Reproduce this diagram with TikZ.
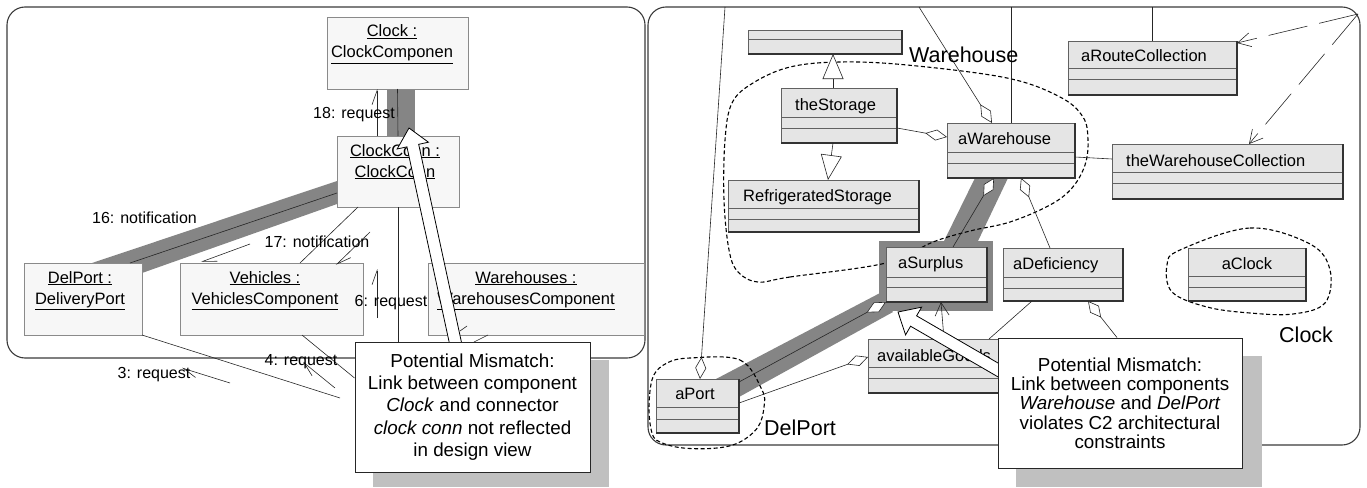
\documentclass[tikz,border=0pt]{standalone}
\usepackage{fontspec}
\setmainfont{Liberation Sans}
\usetikzlibrary{arrows.meta,calc}
\pgfdeclarelayer{background}
\pgfdeclarelayer{front}
\pgfsetlayers{background,main,front}
\definecolor{bandc}{HTML}{858585}
\definecolor{shadowc}{HTML}{C0C0C0}
\definecolor{lboxc}{HTML}{F7F7F7}
\definecolor{rboxc}{HTML}{E5E5E5}
\definecolor{edgec}{HTML}{3A3A3A}
\definecolor{lboxedge}{HTML}{8A8A8A}
\tikzset{
 panel/.style={draw=edgec, line width=1.1pt, rounded corners=18pt},
 lbx/.style={draw=lboxedge, fill=lboxc, line width=0.9pt, inner sep=0pt, outer sep=0pt},
 rbx/.style={draw=edgec!80, fill=rboxc, line width=0.8pt, inner sep=0pt, outer sep=0pt},
 rdiv/.style={draw=edgec!80, line width=0.8pt},
 rshade/.style={draw=black!80, line width=1.6pt},
 lbl/.style={font=\fontsize{16}{19}\selectfont, inner sep=0pt, anchor=base},
 ctext/.style={font=\fontsize{16.5}{19}\selectfont, inner sep=0pt},
 blobtext/.style={font=\fontsize{21.5}{24}\selectfont, inner sep=0pt, anchor=base west},
 link/.style={draw=black!85, line width=0.6pt},
 msg/.style={link, -{Straight Barb[left,length=14pt,width=10pt]}},
 agg/.style={link, -{Diamond[fill=white,length=22pt,width=11pt]}},
 aggstart/.style={link, {Diamond[fill=white,length=21pt,width=11pt]}-},
 gen/.style={link, -{Triangle[fill=white,length=25pt,width=21pt]}},
 nav/.style={link, -{Straight Barb[length=13pt,width=14pt]}},
 dep/.style={nav, dash pattern=on 40pt off 12pt},
 blob/.style={draw=black, line width=1.1pt, dash pattern=on 4pt off 2.5pt},
 shadowbox/.style={fill=shadowc},
 note/.style={draw=black!85, fill=white, line width=0.9pt, align=center, inner sep=0pt},
 hollow/.style={draw=black, fill=white, line width=0.8pt, line join=miter},
}
\newcommand{\lcomp}[8]{%
 \node[lbx, minimum width={(#4-#2)*1pt}, minimum height={(#5-#3)*1pt}] (#1) at ({(#2+#4)/2},{(#3+#5)/2}) {};
 \node[ctext, anchor=base] at (#6,{#3+20}) {\underline{#7}};
 \node[ctext, anchor=base] at (#6,{#3+41}) {\underline{#8}};
}
\newcommand{\rclass}[7]{%
 \node[rbx, minimum width={(#4-#2)*1pt}, minimum height={(#5-#3)*1pt}] (#1) at ({(#2+#4)/2},{(#3+#5)/2}) {};
 \draw[rdiv] (#2,#6) -- (#4,#6);
 \draw[rdiv] (#2,#7) -- (#4,#7);
 \draw[rshade] (#2,#5) -- (#4,#5) -- (#4,#3);
}
\newcommand{\hollowarrow}[3]{%
 \coordinate (#3b) at ($(#2)!18pt!(#1)$);
 \filldraw[hollow] ($(#1)!6pt!90:(#2)$) -- ($(#3b)!6pt!90:(#2)$) -- ($(#3b)!16pt!90:(#2)$) -- (#2)
   -- ($(#3b)!16pt!-90:(#2)$) -- ($(#3b)!6pt!-90:(#2)$) -- ($(#1)!6pt!-90:(#2)$) -- cycle;
}
\begin{document}
\begin{tikzpicture}[x=1pt,y=-1pt]
\useasboundingbox (0,0) rectangle (1367,487);

% ---------- left panel components ----------
\lcomp{clock}{327}{17}{468}{89}{392}{Clock :}{ClockComponen}
\lcomp{conn}{337}{136}{459}{207}{395}{ClockConn :}{ClockConn}
\lcomp{delport}{24}{263}{142}{335}{80}{DelPort :}{DeliveryPort}
\lcomp{vehicles}{180}{263}{363}{335}{265}{Vehicles :}{VehiclesComponent}
\lcomp{whs}{428}{263}{644}{335}{526}{Warehouses :}{WarehousesComponent}

% ---------- right panel classes ----------
\rclass{tbox}{748}{30}{902}{54}{39}{39}
\rclass{stor}{781}{88}{897}{143}{117}{128}
\rclass{refr}{728}{180}{919}{232}{208}{219}
\rclass{awh}{947}{123}{1075}{178}{152}{163}
\rclass{aroute}{1068}{41}{1237}{95}{68}{79}
\rclass{thewc}{1112}{144}{1343}{199}{172}{183}
\rclass{asur}{886}{247}{987}{302}{277}{287}
\rclass{adef}{1003}{248}{1123}{301}{277}{288}
\rclass{aclock}{1188}{248}{1306}{301}{276}{287}
\rclass{agoods}{868}{339}{1010}{393}{367}{378}
\rclass{aport}{656}{379}{739}{433}{407}{419}

\node[ctext,anchor=base west] at (795,110) {theStorage};
\node[ctext,anchor=base west] at (743,201) {RefrigeratedStorage};
\node[ctext,anchor=base west] at (958,144) {aWarehouse};
\node[ctext,anchor=base west] at (1081,61) {aRouteCollection};
\node[ctext,anchor=base west] at (1126,166) {theWarehouseCollection};
\node[ctext,anchor=base west] at (898,268) {aSurplus};
\node[ctext,anchor=base west] at (1013,269) {aDeficiency};
\node[ctext,anchor=base] at (1247,269) {aClock};
\node[ctext,anchor=base west] at (877,361) {availableGoods};
\node[ctext,anchor=base] at (695,399) {aPort};

% ---------- notes (front layer) ----------
\begin{pgfonlayer}{front}
 \fill[shadowbox] (373,360) rectangle (609,487);
 \node[note, minimum width=235pt, minimum height=130pt, font=\fontsize{18.8}{22.2}\selectfont] (note1) at (472.5,407)
  {Potential Mismatch:\\Link between component\\\textit{Clock} and connector\\\textit{clock conn} not reflected\\in design view};
 \fill[shadowbox] (1016,356) rectangle (1262,487);
 \node[note, minimum width=244pt, minimum height=130pt, font=\fontsize{18.8}{19.3}\selectfont] (note2) at (1120,403)
  {Potential Mismatch:\\Link between components\\\textit{Warehouse} and \textit{DelPort}\\violates C2 architectural\\constraints};
\end{pgfonlayer}

% ---------- background: panels, bands, blobs ----------
\begin{pgfonlayer}{background}
 \draw[panel] (7,7) rectangle (645,358);
 \draw[panel] (648,7) rectangle (1360,445);
 % left bands
 \fill[bandc] ([xshift=-10.5pt]clock.south) rectangle ([xshift=17pt]conn.north);
 \fill[bandc] ([yshift=-9.5pt]conn.west) -- ([xshift=9pt]delport.north) -- (delport.north east)
   -- ([yshift=-10pt]delport.north east) -- ([yshift=-32.5pt]conn.west) -- cycle;
 % right bands
 \fill[bandc] ([xshift=-36pt]awh.south) -- ([xshift=-3pt]awh.south)
   -- ([xshift=41.5pt,yshift=6pt]asur.north) -- ([xshift=7.5pt,yshift=6pt]asur.north) -- cycle;
 \fill[bandc] ([xshift=-23pt]aport.north east) -- ([xshift=-6pt,yshift=9pt]asur.south west)
   -- ([xshift=7pt,yshift=-10pt]asur.south west) -- ([yshift=-18pt]aport.north east) -- cycle;
 \fill[bandc] ([xshift=-7pt,yshift=6pt]asur.north west) rectangle ([xshift=6pt,yshift=-9pt]asur.south east);
 % dashed component outlines
 \draw[blob] plot[smooth cycle, tension=0.6] coordinates {(886,263) (790,277) (758,282) (738,272) (729,250) (724,200) (725,140) (732,103) (753,83) (790,67) (840,62) (907,65) (1007,78) (1060,97) (1083,117) (1088,140) (1085,165) (1072,188) (1050,205) (1010,222) (970,231) (933,242)};
 \draw[blob] plot[smooth cycle, tension=0.6] coordinates {(690,358) (740,360) (762,390) (764,407) (758,427) (740,442) (717,448) (683,448) (660,442) (652,433) (649,407) (653,377) (667,363)};
 \draw[blob] plot[smooth cycle, tension=0.6] coordinates {(1180,250) (1250,228) (1310,244) (1330,270) (1325,303) (1293,314) (1250,313) (1207,307) (1172,292) (1167,265)};
\end{pgfonlayer}

% ---------- left connectors ----------
\draw[link] (clock.south) -- (conn.north);
\draw[msg] ([xshift=-21pt]conn.north) -- ([xshift=-20.5pt]clock.south);
\draw[link] ([yshift=-21.5pt]conn.west) -- ([xshift=47pt]delport.north);
\draw[link] ([xshift=-40pt]conn.south) -- ([xshift=28.5pt]vehicles.north);
\draw[link] (conn.south) -- (conn.south |- note1.north);
\draw[link] ([xshift=30.5pt]vehicles.south) -- ([yshift=29pt]note1.west);
\coordinate (dpend) at (340,398);
\draw[link] (delport.south east) -- (dpend);
\coordinate (whsend) at (474,342);
\draw[link] ([xshift=-48pt]whs.south) -- (whsend);
\coordinate (m16s) at (250,244); \coordinate (m16e) at (201,262);
\coordinate (m17s) at (370,232); \coordinate (m17e) at (336,265);
\coordinate (m6s) at (377,318);  \coordinate (m6e) at (377,269);
\coordinate (m4s) at (335,388);  \coordinate (m4e) at (303,362);
\coordinate (m3s) at (230,383);  \coordinate (m3e) at (182,368);
\coordinate (mws) at (460,331);  \coordinate (mwe) at (467,326);
\draw[msg] (m16s) -- (m16e);
\draw[msg] (m17s) -- (m17e);
\draw[msg] (m6s) -- (m6e);
\draw[msg] (m4s) -- (m4e);
\draw[msg] (m3s) -- (m3e);
\draw[link] (mws) -- (mwe);

\node[lbl] at (354,118) {18: request};
\node[lbl] at (144.5,223) {16: notification};
\node[lbl] at (317,247) {17: notification};
\node[lbl] at (391,306) {6: request};
\node[lbl] at (301,365) {4: request};
\node[lbl] at (154,378) {3: request};

% ---------- right connectors ----------
\coordinate (t1) at (725,7);
\coordinate (t2) at (919,7);
\coordinate (t3) at (1011,7);
\coordinate (t4) at (1152.5,7);
\coordinate (tc) at (1358,14);
\draw[gen] ([xshift=-6pt]stor.north) -- ([xshift=8pt]tbox.south);
\draw[gen] ([xshift=-6pt]stor.south) -- ([xshift=4.5pt]refr.north);
\draw[agg] ([yshift=-12.5pt]stor.east) -- ([yshift=13.5pt]awh.west);
\draw[agg] (t2) -- ([xshift=-19pt]awh.north);
\draw[link] (t3) -- (awh.north);
\draw[link] (t4) -- (aroute.north);
\draw[agg] (t1) -- ([xshift=2.5pt]aport.north);
\draw[link] ([yshift=-6.5pt]awh.east) -- ([yshift=12.5pt]thewc.west);
\draw[aggstart] ([xshift=10pt]awh.south) -- ([xshift=-13pt]adef.north);
\draw[aggstart] ([xshift=-17pt]awh.south) -- ([xshift=16.5pt]asur.north);
\draw[agg] ([yshift=24pt]aport.east) -- (asur.south west);
\draw[agg] ([yshift=3pt]aport.east) -- ([yshift=9pt]agoods.west);
\draw[nav] ([xshift=5pt]agoods.north) -- ([xshift=4.5pt]asur.south);
\draw[link] ([xshift=-31pt]adef.south) -- ([xshift=50pt]agoods.north);
\draw[aggstart] ([xshift=25pt]adef.south) -- ([xshift=-3pt]note2.north);
\draw[dep] (tc) -- ([yshift=25pt]aroute.east);
\draw[dep] (tc) -- ([xshift=21.5pt]thewc.north);

\node[blobtext] at (909,63) {Warehouse};
\node[blobtext] at (764,435) {DelPort};
\node[blobtext] at (1279,342) {Clock};

% ---------- hollow mismatch arrows ----------
\coordinate (h1s) at (457,350); \coordinate (h1t) at (409,128);
\coordinate (h2s) at (1005,374); \coordinate (h2t) at (898,312);
\hollowarrow{h1s}{h1t}{ha}
\hollowarrow{h2s}{h2t}{hb}
\end{tikzpicture}
\end{document}
